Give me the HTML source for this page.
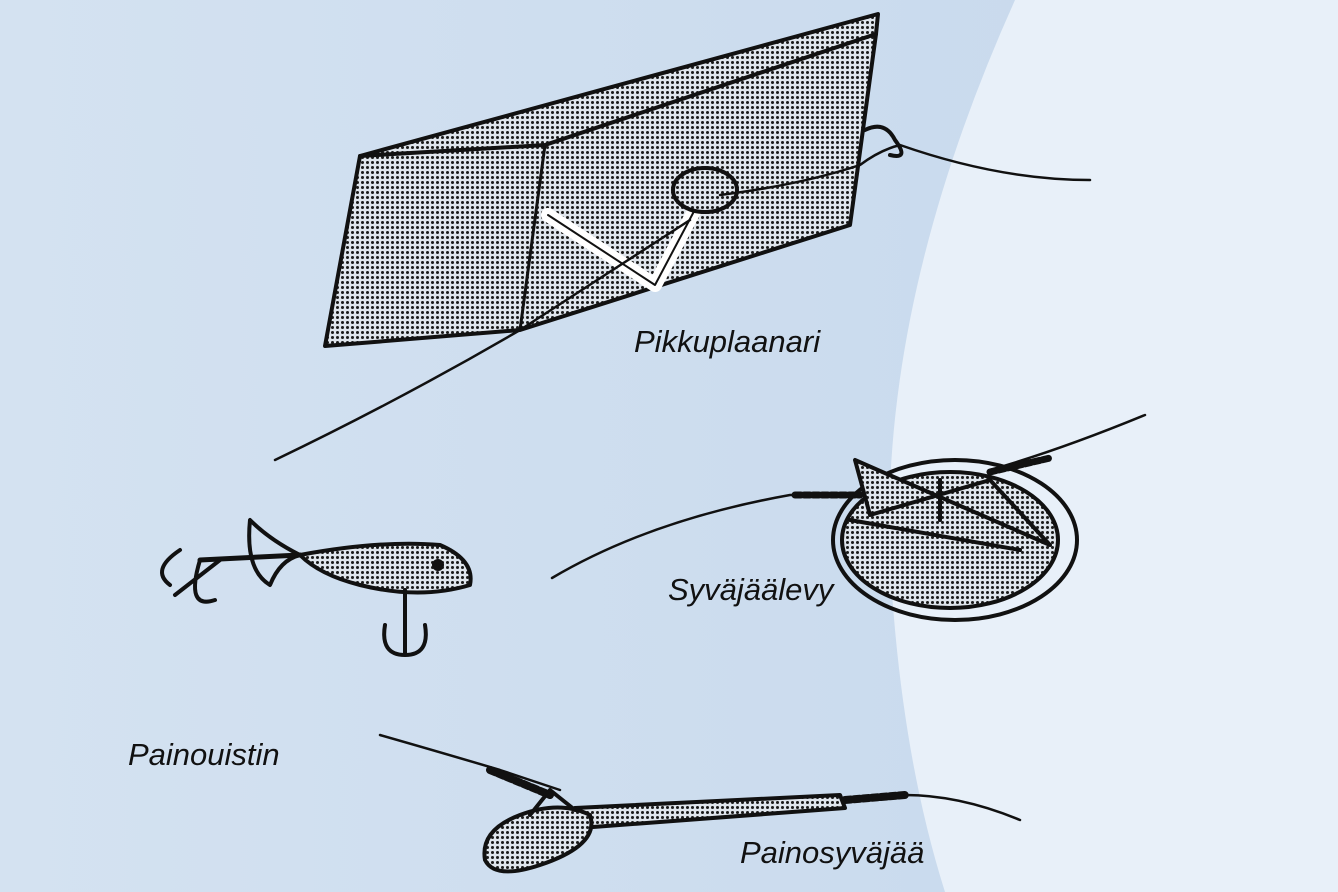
<!DOCTYPE html>
<html><head><meta charset="utf-8"><style>
html,body{margin:0;padding:0;width:1338px;height:892px;overflow:hidden;background:#cfdeef}
svg{display:block}
text{font-family:"Liberation Sans",sans-serif;font-style:italic;font-size:31px;fill:#111}
</style></head><body>
<svg width="1338" height="892" viewBox="0 0 1338 892" xmlns="http://www.w3.org/2000/svg">
<defs>
<pattern id="dots" width="5" height="5" patternUnits="userSpaceOnUse">
<rect width="5" height="5" fill="#dfe5ec"/><circle cx="2.5" cy="2.5" r="1.5" fill="#1a1a1a"/>
</pattern>
<linearGradient id="bg" x1="0" x2="1" y1="0" y2="0">
<stop offset="0" stop-color="#d4e2f1"/><stop offset="1" stop-color="#c6d8ec"/>
</linearGradient>
</defs>
<rect width="1338" height="892" fill="url(#bg)"/>
<path d="M1015 0 Q880 300 890 560 Q900 750 945 892 L1338 892 L1338 0 Z" fill="#e8f0f9"/>
<g stroke="#111" stroke-width="4" stroke-linejoin="round" stroke-linecap="round" fill="none">
<path d="M360 156 L878 14 L876 34 L850 225 L520 330 L325 346 Z" fill="url(#dots)"/>
<path d="M360 156 L545 145 L876 34"/>
<path d="M545 145 L520 330" stroke-width="3"/>
<path d="M548 215 L655 285 L700 200" stroke="#fff" stroke-width="14" fill="none"/>
<path d="M548 215 L655 285 L700 200" stroke-width="2"/>
<ellipse cx="705" cy="190" rx="32" ry="22" fill="url(#dots)"/>
<path d="M275 460 Q400 400 520 330 L690 220" stroke-width="2.5"/>
<path d="M720 195 Q800 185 860 165 Q880 150 900 145 Q1000 180 1090 180" stroke-width="2.5"/>
<path d="M865 130 Q885 120 895 140 Q910 160 890 155"/>
<path d="M300 555 Q380 540 440 545 Q475 560 470 585 Q420 600 360 585 Q320 575 300 555 Z" fill="url(#dots)"/>
<path d="M300 555 Q270 540 250 520 Q245 570 270 585 Q280 560 300 555"/>
<path d="M200 560 L300 555" stroke-width="5"/>
<path d="M180 550 Q150 570 170 585 M200 560 Q185 610 215 600 M220 560 L175 595"/>
<path d="M405 590 L405 620 M385 625 Q380 655 405 655 Q430 655 425 625 M405 620 L405 655"/>
<circle cx="438" cy="565" r="4" fill="#111"/>
<ellipse cx="955" cy="540" rx="122" ry="80" fill="none" stroke-width="4"/>
<ellipse cx="950" cy="540" rx="108" ry="68" fill="url(#dots)"/>
<path d="M855 460 L870 515 L990 480 L1050 545 Z" fill="url(#dots)"/>
<path d="M850 520 L1020 550 M940 480 L940 520"/>
<path d="M552 578 Q650 520 790 495 L860 495" stroke-width="2.5"/>
<path d="M990 470 Q1060 450 1145 415" stroke-width="2.5"/>
<path d="M795 495 L860 495" stroke-width="7" stroke-dasharray="6 3"/>
<path d="M990 472 L1050 458" stroke-width="7" stroke-dasharray="6 3"/>
<path d="M380 735 Q450 755 500 770 L560 790" stroke-width="2.5"/>
<path d="M490 770 L550 795" stroke-width="8" stroke-dasharray="6 3"/>
<path d="M575 808 L840 795 L845 808 L580 828 Z" fill="url(#dots)"/>
<path d="M485 860 Q480 830 520 815 Q560 800 590 815 Q600 845 540 865 Q495 880 485 860 Z" fill="url(#dots)"/>
<path d="M530 815 L550 790 L575 810"/>
<path d="M845 800 L905 795" stroke-width="8" stroke-dasharray="6 3"/>
<path d="M905 795 Q960 795 1020 820" stroke-width="2.5"/>
</g>
<text x="634" y="352">Pikkuplaanari</text>
<text x="668" y="600">Syväjäälevy</text>
<text x="128" y="765">Painouistin</text>
<text x="740" y="863">Painosyväjää</text>
</svg>
</body></html>
